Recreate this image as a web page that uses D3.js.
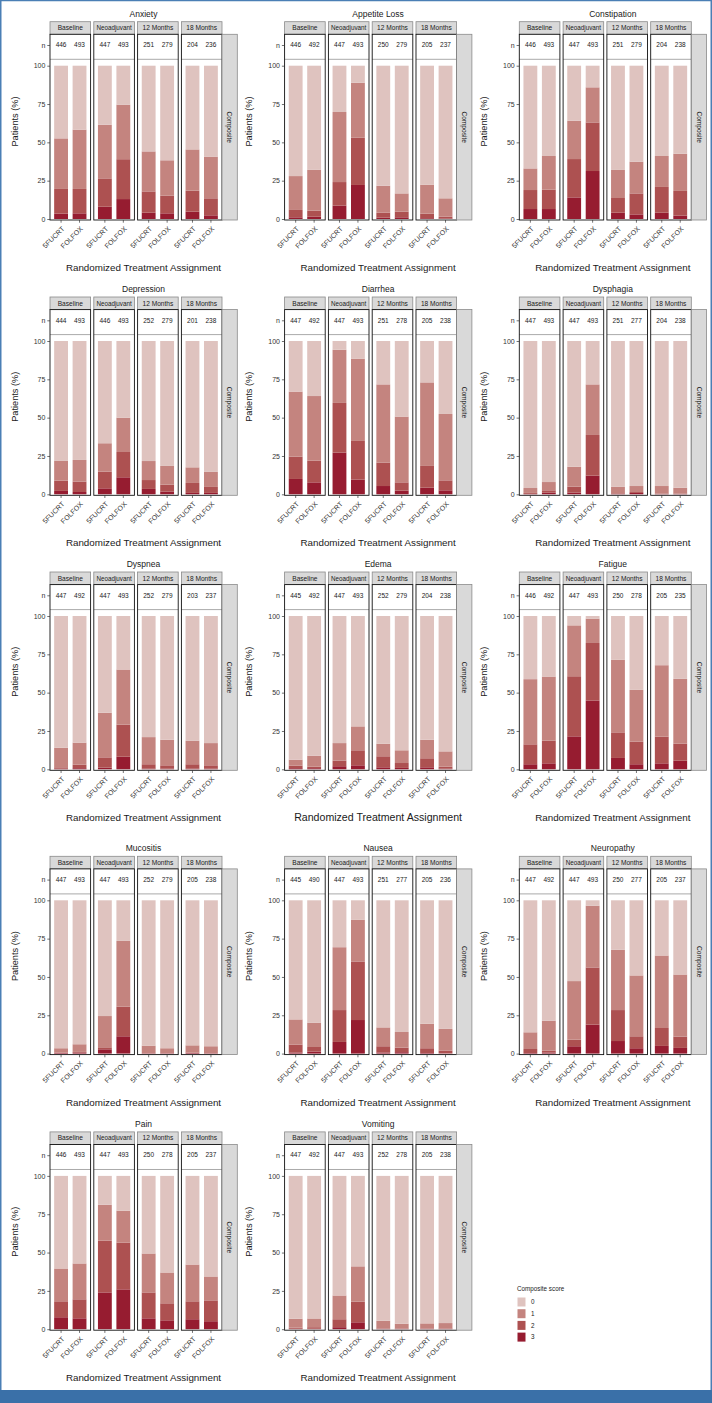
<!DOCTYPE html>
<html><head><meta charset="utf-8">
<script src="https://cdn.jsdelivr.net/npm/d3@7"></script>
<style>body{margin:0;background:#fff} svg{display:block;font-family:"Liberation Sans",Arial,sans-serif}</style>
</head><body><svg id="c" width="712" height="1403"></svg>
<script>
// ---------- data ----------
const timepoints = ["Baseline","Neoadjuvant","12 Months","18 Months"];
const arms = ["5FUCRT","FOLFOX"];
const scores = ["0","1","2","3"];
const yTicks = [0,25,50,75,100];
const symptomNames = ["Anxiety","Appetite Loss","Constipation","Depression","Diarrhea","Dysphagia","Dyspnea","Edema","Fatigue","Mucositis","Nausea","Neuropathy","Pain","Vomiting"];

// For each bar (Baseline 5FUCRT, Baseline FOLFOX, Neoadjuvant 5FUCRT, ... 18 Months FOLFOX):
// [% with composite score >=1, >=2, >=3]
const anxiety      = [[52.6,19.6,3.5],[58.3,19.6,3.7],[61.5,26.5,8.0],[74.6,39.0,13.0],[44.1,18.0,4.1],[38.3,15.2,3.7],[45.4,18.5,4.8],[40.7,13.5,2.4]];
const appetiteLoss = [[28.0,5.9,1.1],[32.2,5.4,1.5],[69.8,24.1,8.7],[88.9,53.0,22.2],[21.7,4.1,0.9],[16.7,4.8,1.1],[22.4,3.5,0.5],[13.5,1.5,0.3]];
const constipation = [[33.0,18.9,6.5],[41.1,19.1,6.5],[64.1,39.1,14.1],[85.9,63.0,31.3],[32.0,13.7,4.1],[37.4,16.7,3.0],[41.1,20.9,4.1],[42.6,18.3,2.2]];
const depression   = [[22.0,8.9,2.2],[22.4,8.3,1.5],[33.3,14.8,3.9],[50.0,27.6,11.1],[21.7,9.3,3.5],[18.5,6.3,1.7],[17.6,7.4,0.9],[14.6,4.8,0.9]];
const diarrhea     = [[67.0,24.6,10.0],[64.1,22.0,7.8],[94.3,59.6,27.2],[88.5,34.8,9.6],[71.7,20.7,5.4],[50.7,7.8,2.4],[73.0,18.5,4.3],[52.4,9.1,2.6]];
const dysphagia    = [[4.1,0.9,0.3],[8.0,2.6,1.1],[18.0,5.0,1.1],[71.7,38.7,12.2],[5.0,0.7,0.3],[5.4,1.5,0.9],[5.4,0.5,0.2],[4.3,0.5,0.2]];
const dyspnea      = [[14.1,1.3,0.4],[17.4,3.0,0.7],[36.9,7.8,1.1],[65.1,29.1,8.2],[21.0,3.3,0.4],[19.3,2.6,0.4],[18.7,3.3,0.4],[17.1,2.6,0.4]];
const edema        = [[6.3,2.4,0.7],[8.9,1.7,0.7],[17.1,5.6,2.0],[28.0,12.4,2.6],[16.7,8.5,1.3],[12.4,4.1,0.9],[19.3,7.2,1.3],[11.7,1.7,0.4]];
const fatigue      = [[58.8,16.3,3.3],[60.5,18.7,3.9],[93.9,60.7,21.5],[98.3,82.4,44.9],[71.4,24.1,7.4],[51.8,18.0,3.3],[67.9,21.3,3.9],[59.0,16.7,5.6]];
const mucositis    = [[3.5,0.7,0.4],[6.1,1.1,0.7],[24.5,4.1,2.8],[73.5,30.6,11.3],[5.2,0.4,0.2],[3.5,0.4,0.2],[5.4,0.7,0.4],[4.8,0.4,0.2]];
const nausea       = [[22.3,5.9,0.7],[20.2,4.3,1.3],[69.4,28.4,7.6],[87.4,60.1,21.9],[17.1,4.8,0.7],[14.1,3.9,0.9],[19.5,3.5,0.4],[16.1,2.0,0.2]];
const neuropathy   = [[13.9,3.0,0.4],[21.5,2.0,0.7],[47.3,9.1,4.8],[96.5,56.2,18.9],[67.7,28.4,8.2],[51.0,11.3,3.5],[64.0,16.7,5.0],[51.6,11.1,3.7]];
const pain         = [[39.6,18.2,7.8],[42.9,19.5,7.1],[81.2,57.8,24.0],[77.3,56.5,26.0],[49.4,24.0,7.1],[37.0,16.9,5.8],[42.2,18.2,6.5],[34.4,18.8,5.2]];
const vomiting     = [[6.8,1.0,0.3],[7.0,1.3,0.3],[22.0,6.5,1.3],[41.0,18.0,4.5],[5.5,0.5,0.2],[3.6,0.5,0.2],[3.8,0.5,0.2],[4.0,0.5,0.2]];

// sample sizes n per bar
const nAnxiety      = [446,493,447,493,251,279,204,236];
const nAppetiteLoss = [446,492,447,493,250,279,205,237];
const nConstipation = [446,493,447,493,251,279,204,238];
const nDepression   = [444,493,446,493,252,279,201,238];
const nDiarrhea     = [447,492,447,493,251,278,205,238];
const nDysphagia    = [447,493,447,493,251,277,204,238];
const nDyspnea      = [447,492,447,493,252,279,203,237];
const nEdema        = [445,492,447,493,252,279,204,238];
const nFatigue      = [446,492,447,493,250,278,205,235];
const nMucositis    = [447,493,447,493,252,279,205,238];
const nNausea       = [445,490,447,493,251,277,205,236];
const nNeuropathy   = [447,492,447,493,250,277,205,237];
const nPain         = [446,493,447,493,250,278,205,237];
const nVomiting     = [447,492,447,493,252,278,205,238];

const pctList = [anxiety,appetiteLoss,constipation,depression,diarrhea,dysphagia,dyspnea,edema,fatigue,mucositis,nausea,neuropathy,pain,vomiting];
const nList = [nAnxiety,nAppetiteLoss,nConstipation,nDepression,nDiarrhea,nDysphagia,nDyspnea,nEdema,nFatigue,nMucositis,nNausea,nNeuropathy,nPain,nVomiting];
const panels = symptomNames.map((name,i)=>({name, pct:pctList[i], n:nList[i]}));

// ---------- drawing ----------
const svg = d3.select("#c");
const colX = [0,234.6,469.3];
const rowY = [0,275.3,550.3,834.6,1110.2];
const color = d3.scaleOrdinal().domain(scores).range(["#dfc3bf","#c4847f","#ad5151","#961c30"]);
const fx = d3.scaleBand().domain(timepoints).range([50,222]).paddingInner(0.073);
const fa = d3.scaleBand().domain(arms).range([0,fx.bandwidth()]).paddingInner(0.25).paddingOuter(0.225);
const y = d3.scaleLinear().domain([0,100]).range([219,65.7]);
const nY = d3.scalePoint().domain(["n"]).range([45,45]);

const S = {stripTop:21.7, stripBot:34.3, nBot:59.3, panelBot:220};

panels.forEach((p,i)=>{
  const g = svg.append("g").attr("transform",`translate(${colX[i%3]},${rowY[Math.floor(i/3)]})`);
  g.append("text").attr("x",143.5).attr("y",16.5).attr("text-anchor","middle")
    .attr("font-size",8.5).attr("fill","#1a1a1a").text(p.name);

  timepoints.forEach((tp,ti)=>{
    const x0 = fx(tp), w = fx.bandwidth();
    const fg = g.append("g").attr("transform",`translate(${x0},0)`);
    // strip
    fg.append("rect").attr("x",0).attr("y",S.stripTop).attr("width",w).attr("height",S.stripBot-S.stripTop)
      .attr("fill","#d9d9d9").attr("stroke","#8a8a8a").attr("stroke-width",0.8);
    fg.append("text").attr("x",w/2).attr("y",(S.stripTop+S.stripBot)/2).attr("dy","0.35em")
      .attr("text-anchor","middle").attr("font-size",tp==="Neoadjuvant"?6.3:6.6).attr("fill","#1a1a1a").text(tp);
    // n row
    fg.append("rect").attr("x",0).attr("y",S.stripBot).attr("width",w).attr("height",S.nBot-S.stripBot).attr("fill","#fff");
    const rows = arms.map((a,ai)=>({arm:a, v:p.pct[ti*2+ai], n:p.n[ti*2+ai]}));
    fg.selectAll("text.n").data(rows).join("text").attr("class","n")
      .attr("x",d=>fa(d.arm)+fa.bandwidth()/2).attr("y",nY("n")).attr("dy","0.35em")
      .attr("text-anchor","middle").attr("font-size",6.5).attr("fill","#1a1a1a").text(d=>d.n);
    // stacked bars
    const segs = [];
    rows.forEach(d=>{
      segs.push({arm:d.arm,s:"3",y0:0,y1:d.v[2]});
      segs.push({arm:d.arm,s:"2",y0:d.v[2],y1:d.v[1]});
      segs.push({arm:d.arm,s:"1",y0:d.v[1],y1:d.v[0]});
      segs.push({arm:d.arm,s:"0",y0:d.v[0],y1:100});
    });
    fg.selectAll("rect.seg").data(segs).join("rect").attr("class","seg")
      .attr("x",d=>fa(d.arm)).attr("width",fa.bandwidth())
      .attr("y",d=>y(d.y1)).attr("height",d=>y(d.y0)-y(d.y1))
      .attr("fill",d=>color(d.s));
    // borders
    fg.append("line").attr("x1",0).attr("x2",w).attr("y1",S.nBot).attr("y2",S.nBot).attr("stroke","#a0a0a0").attr("stroke-width",0.9);
    fg.append("rect").attr("x",0).attr("y",S.stripBot).attr("width",w).attr("height",S.panelBot-S.stripBot)
      .attr("fill","none").attr("stroke","#111").attr("stroke-width",0.9);
    // x axis
    const xa = fg.append("g").attr("transform",`translate(0,${S.panelBot})`)
      .call(d3.axisBottom(fa).tickSize(2.7).tickSizeOuter(0));
    xa.select(".domain").remove();
    xa.selectAll(".tick line").attr("stroke","#333").attr("stroke-width",0.7);
    xa.selectAll(".tick text").attr("font-size",7).attr("fill","#333").attr("font-family",null)
      .attr("text-anchor","end").attr("y",0).attr("dy",0)
      .attr("transform","translate(3.9,9.2) rotate(-45)");
  });

  // Composite strip (right)
  g.append("rect").attr("x",222).attr("y",S.stripBot).attr("width",15.3).attr("height",S.panelBot-S.stripBot)
    .attr("fill","#d9d9d9").attr("stroke","#8a8a8a").attr("stroke-width",0.8);
  g.append("text").attr("transform",`translate(229.6,${(S.stripBot+S.panelBot)/2}) rotate(90)`)
    .attr("dy","0.35em").attr("text-anchor","middle").attr("font-size",6.6).attr("fill","#1a1a1a").text("Composite");

  // y axis
  const ya = g.append("g").attr("transform","translate(50,0)")
    .call(d3.axisLeft(y).tickValues(yTicks).tickSize(2.7).tickSizeOuter(0));
  ya.select(".domain").remove();
  const na = g.append("g").attr("transform","translate(50,0)")
    .call(d3.axisLeft(nY).tickSize(2.7).tickSizeOuter(0));
  na.select(".domain").remove();
  [ya,na].forEach(a=>{
    a.selectAll(".tick line").attr("stroke","#333").attr("stroke-width",0.7);
    a.selectAll(".tick text").attr("font-size",7).attr("fill","#333").attr("font-family",null).attr("x",-4.6);
  });
  g.append("text").attr("transform","translate(17.5,121.5) rotate(-90)").attr("text-anchor","middle")
    .attr("font-size",9.2).attr("fill","#1a1a1a").text("Patients (%)");
  g.append("text").attr("x",143.5).attr("y",271).attr("text-anchor","middle")
    .attr("font-size",p.name==="Edema"?10.6:9.8).attr("fill","#1a1a1a").text("Randomized Treatment Assignment");
});

// legend
const lg = svg.append("g").attr("transform","translate(517,1286)");
lg.append("text").attr("x",0).attr("y",5).attr("font-size",6.3).attr("fill","#1a1a1a").text("Composite score");
lg.selectAll("rect").data(scores).join("rect")
  .attr("x",0.5).attr("y",(d,i)=>11.5+i*11.7).attr("width",8).attr("height",9).attr("fill",d=>color(d));
lg.selectAll("text.lab").data(scores).join("text").attr("class","lab")
  .attr("x",14).attr("y",(d,i)=>16+i*11.7).attr("dy","0.35em").attr("font-size",6.3).attr("fill","#1a1a1a").text(d=>d);

// frame
svg.append("rect").attr("x",0.75).attr("y",0.5).attr("width",710.5).attr("height",1400).attr("fill","none")
  .attr("stroke","#4a7fb5").attr("stroke-width",1.5);
svg.append("rect").attr("x",0).attr("y",1390).attr("width",712).attr("height",13).attr("fill","#3a70a8");
</script></body></html>
